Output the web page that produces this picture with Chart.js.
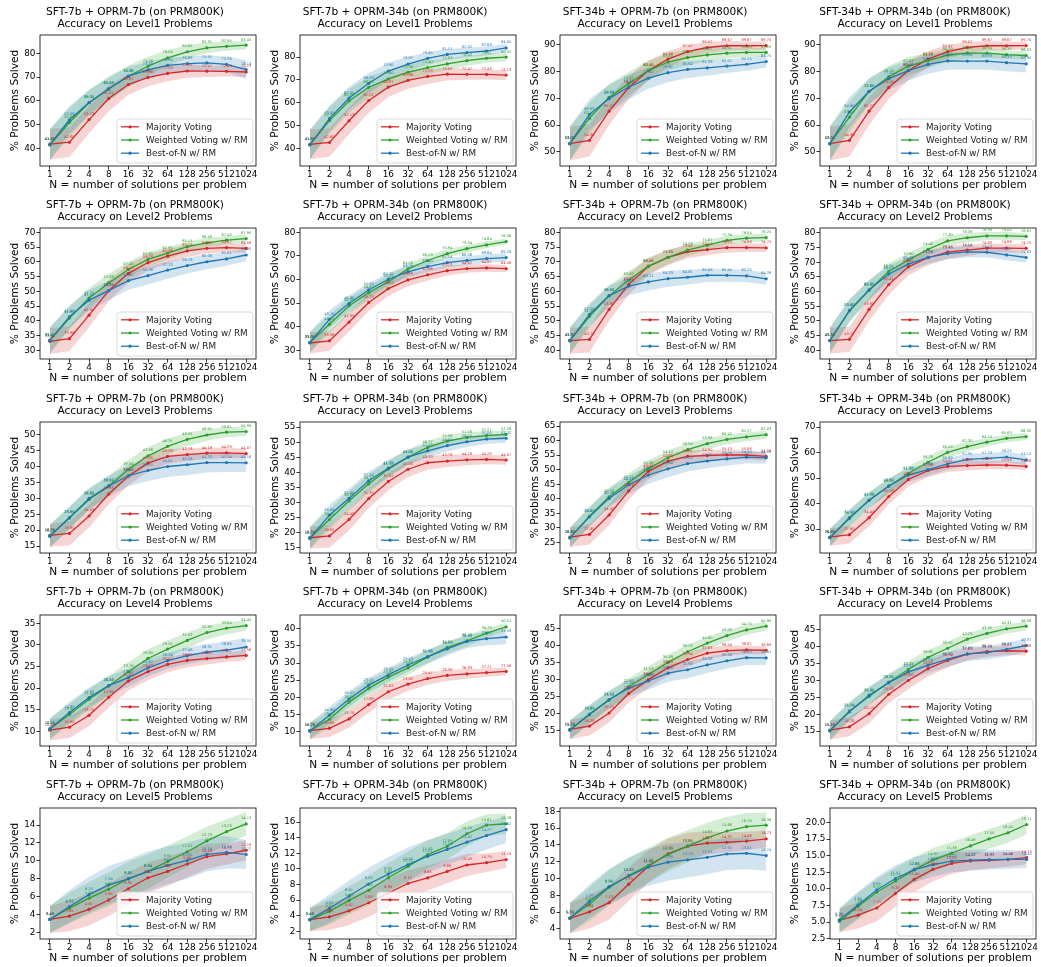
<!DOCTYPE html>
<html>
<head>
<meta charset="utf-8">
<script src="https://cdn.jsdelivr.net/npm/chart.js@4.4.0/dist/chart.umd.min.js"></script>
<style>
  body { margin: 0; background: #fff; }
  #grid { position: relative; width: 1041px; height: 967px; }
  #grid canvas { position: absolute; }
</style>
</head>
<body>
<div id="grid"></div>
<script>
const N_LABELS = ['1', '2', '4', '8', '16', '32', '64', '128', '256', '512', '1024'];
const SERIES_NAMES = ['Majority Voting', 'Weighted Voting w/ RM', 'Best-of-N w/ RM'];
const COLORS = ['#d62728', '#2ca02c', '#1f77b4'];
const BANDS = ['rgba(214,39,40,0.2)', 'rgba(44,160,44,0.2)', 'rgba(31,119,180,0.2)'];

// majority voting only depends on the generator (SFT model)
const mv7_L1 = [41.80, 42.60, 52.13, 61.01, 66.87, 69.86, 71.53, 72.55, 72.47, 72.43, 72.13];
const mv34_L1 = [53.05, 54.30, 65.22, 74.05, 80.40, 84.68, 87.47, 89.02, 89.67, 89.67, 89.75];
const mv7_L2 = [33.08, 33.98, 41.95, 50.25, 56.12, 59.79, 61.96, 63.73, 64.62, 64.87, 64.58];
const mv34_L2 = [43.30, 43.72, 53.95, 62.41, 68.45, 71.55, 73.45, 74.15, 74.83, 74.86, 74.75];
const mv7_L3 = [18.35, 18.95, 24.43, 31.35, 37.02, 41.05, 43.20, 43.76, 44.18, 44.29, 44.07];
const mv34_L3 = [26.85, 27.80, 34.45, 42.76, 49.45, 52.95, 54.61, 54.90, 55.13, 55.06, 54.58];
const mv7_L4 = [10.26, 10.95, 13.70, 17.89, 21.62, 23.82, 25.47, 26.39, 26.83, 27.21, 27.56];
const mv34_L4 = [15.30, 16.28, 20.15, 25.93, 30.00, 33.50, 35.94, 37.83, 38.54, 38.81, 38.69];
const mv7_L5 = [3.48, 3.85, 4.61, 5.65, 6.90, 8.12, 8.83, 9.66, 10.49, 10.79, 11.19];
const mv34_L5 = [5.25, 6.04, 7.13, 9.33, 11.45, 12.95, 13.85, 14.22, 14.32, 14.46, 14.73];

// weighted voting / best-of-N, named wv<sft>_<orm>_L<level>
const wv7_7_L1 = [41.45, 50.90, 59.20, 65.00, 70.30, 74.56, 78.04, 80.65, 82.31, 82.95, 83.45];
const bn7_7_L1 = [41.55, 52.06, 59.31, 65.08, 70.38, 73.00, 74.90, 75.69, 75.97, 75.38, 73.13];
const wv7_34_L1 = [41.60, 52.20, 60.80, 66.80, 70.40, 73.38, 75.40, 77.03, 78.43, 79.51, 80.02];
const bn7_34_L1 = [41.60, 53.05, 62.05, 68.53, 73.90, 76.97, 79.45, 81.17, 82.02, 82.68, 84.05];
const wv34_7_L1 = [53.05, 62.50, 70.40, 75.50, 80.40, 83.60, 85.20, 86.25, 86.91, 87.20, 87.20];
const bn34_7_L1 = [53.05, 63.95, 69.93, 74.25, 77.60, 79.61, 80.84, 81.38, 82.07, 82.75, 83.75];
const wv34_34_L1 = [53.05, 63.00, 72.60, 78.10, 82.03, 84.10, 86.20, 86.90, 86.94, 86.35, 86.03];
const bn34_34_L1 = [53.05, 64.90, 72.62, 77.40, 80.40, 82.70, 84.00, 83.96, 83.93, 83.33, 82.90];

const wv7_7_L2 = [33.40, 41.00, 47.75, 52.88, 57.45, 60.85, 62.95, 65.15, 66.49, 67.40, 67.90];
const bn7_7_L2 = [33.40, 41.40, 47.05, 50.30, 53.65, 55.38, 57.23, 58.78, 60.06, 61.01, 62.35];
const wv7_34_L2 = [33.30, 41.05, 48.90, 54.40, 59.05, 64.50, 68.03, 70.94, 73.04, 74.64, 76.06];
const bn7_34_L2 = [33.30, 43.10, 49.90, 55.55, 60.10, 63.20, 65.40, 67.14, 68.06, 68.84, 69.28];
const wv34_7_L2 = [43.30, 51.50, 58.50, 63.87, 68.58, 71.55, 74.03, 75.67, 77.34, 78.04, 78.25];
const bn34_7_L2 = [43.30, 52.20, 58.59, 61.80, 63.21, 64.33, 64.81, 65.48, 65.45, 65.25, 64.28];
const wv34_34_L2 = [43.30, 53.40, 60.40, 66.91, 70.80, 74.40, 77.30, 78.38, 78.99, 79.00, 78.81];
const bn34_34_L2 = [43.30, 53.60, 60.62, 66.00, 69.40, 71.70, 72.93, 73.58, 73.43, 72.51, 71.63];

const wv7_7_L3 = [18.20, 23.80, 29.60, 33.81, 39.06, 43.36, 46.35, 48.55, 49.91, 50.81, 50.99];
const bn7_7_L3 = [18.00, 23.95, 29.95, 33.90, 37.10, 38.75, 40.01, 40.56, 41.23, 41.24, 41.16];
const wv7_34_L3 = [18.20, 24.40, 30.60, 36.20, 41.10, 45.05, 48.27, 50.38, 51.58, 52.21, 52.58];
const bn7_34_L3 = [18.20, 25.84, 31.40, 37.24, 41.39, 45.05, 47.15, 48.85, 50.15, 51.05, 51.32];
const wv34_7_L3 = [26.60, 34.00, 40.70, 45.71, 50.38, 54.12, 56.90, 58.96, 60.42, 61.27, 62.03];
const bn34_7_L3 = [26.60, 33.81, 40.16, 44.85, 48.20, 50.30, 52.10, 53.00, 53.70, 54.30, 54.10];
const wv34_34_L3 = [26.60, 34.10, 41.40, 46.80, 51.90, 56.20, 60.05, 62.30, 64.10, 65.60, 66.30];
const bn34_34_L3 = [26.60, 34.50, 41.20, 46.90, 51.20, 53.30, 55.60, 57.35, 57.73, 58.25, 57.12];

const wv7_7_L4 = [10.55, 13.90, 17.40, 20.50, 23.79, 26.85, 29.01, 31.03, 32.85, 33.84, 34.45];
const bn7_7_L4 = [10.55, 14.35, 17.82, 20.58, 22.40, 24.67, 26.34, 27.48, 28.31, 28.80, 29.50];
const wv7_34_L4 = [10.20, 13.60, 18.60, 22.60, 25.90, 28.60, 31.70, 34.60, 36.43, 38.70, 40.51];
const bn7_34_L4 = [10.20, 14.80, 19.51, 23.55, 26.55, 29.43, 31.86, 34.10, 36.30, 37.10, 37.59];
const wv34_7_L4 = [15.10, 19.60, 23.90, 27.90, 31.53, 35.09, 38.25, 40.80, 43.00, 44.70, 45.80];
const bn34_7_L4 = [15.10, 19.85, 24.13, 27.50, 29.60, 31.90, 32.93, 34.38, 35.58, 36.50, 36.41];
const wv34_34_L4 = [15.10, 21.00, 25.30, 29.50, 33.28, 36.85, 39.55, 42.25, 43.95, 45.31, 46.08];
const bn34_34_L4 = [15.10, 20.73, 25.65, 29.31, 32.55, 34.50, 36.30, 37.89, 38.25, 39.20, 40.37];

const wv7_7_L5 = [3.48, 4.75, 5.85, 6.85, 8.02, 8.84, 9.95, 11.02, 12.23, 13.26, 14.13];
const bn7_7_L5 = [3.48, 4.92, 6.25, 7.34, 8.00, 8.84, 9.51, 10.05, 10.74, 10.96, 10.72];
const wv7_34_L5 = [3.48, 4.55, 5.95, 7.25, 8.85, 10.32, 11.83, 12.89, 14.50, 15.61, 15.78];
const bn7_34_L5 = [3.48, 4.92, 6.51, 8.05, 9.32, 10.55, 11.61, 12.50, 13.42, 14.27, 15.02];
const wv34_7_L5 = [5.30, 6.95, 8.95, 10.35, 11.56, 12.85, 13.85, 14.85, 15.66, 16.19, 16.36];
const bn34_7_L5 = [5.30, 7.29, 9.05, 10.30, 11.35, 11.95, 12.23, 12.53, 12.92, 13.01, 12.74];
const wv34_34_L5 = [5.10, 7.40, 9.50, 11.20, 12.88, 14.37, 15.38, 16.48, 17.55, 18.45, 19.71];
const bn34_34_L5 = [5.35, 7.60, 9.85, 11.57, 12.90, 13.65, 14.20, 14.33, 14.41, 14.45, 14.45];

// half widths of the shaded bands
const sdMv7_L1 = [6.5, 6.2, 5.8, 5.4, 4.3, 3.7, 3.3, 2.8, 2.4, 2.2, 2.1];
const sdMv34_L1 = [6.3, 6.0, 5.2, 4.3, 3.6, 3.0, 2.5, 2.1, 1.8, 1.6, 1.5];
const sdWv7_7_L1 = [6.5, 6.0, 5.6, 5.2, 4.6, 4.0, 3.4, 2.8, 2.2, 1.9, 1.7];
const sdBn7_7_L1 = [6.5, 5.8, 5.2, 4.6, 4.0, 3.5, 3.2, 3.0, 3.1, 3.4, 3.9];
const sdWv7_34_L1 = [6.5, 5.8, 5.2, 4.6, 4.0, 3.5, 3.0, 2.6, 2.2, 2.0, 1.8];
const sdBn7_34_L1 = [6.5, 5.6, 5.0, 4.4, 3.8, 3.2, 2.8, 2.4, 2.1, 2.0, 1.8];
const sdWv34_7_L1 = [6.3, 5.8, 5.0, 4.4, 3.8, 3.2, 2.8, 2.4, 2.0, 1.8, 1.6];
const sdBn34_7_L1 = [6.3, 5.8, 5.2, 4.6, 4.0, 3.6, 3.2, 2.9, 2.6, 2.4, 2.2];
const sdWv34_34_L1 = [6.3, 5.6, 4.8, 4.0, 3.4, 2.8, 2.4, 2.0, 1.8, 1.6, 1.5];
const sdBn34_34_L1 = [6.3, 5.6, 4.8, 4.2, 3.8, 3.5, 3.3, 3.2, 3.2, 3.2, 3.2];

const sdMv7_L2 = [4.4, 4.2, 4.0, 3.6, 3.1, 2.7, 2.4, 2.1, 1.8, 1.6, 1.5];
const sdMv34_L2 = [4.4, 4.3, 4.0, 3.5, 3.0, 2.6, 2.2, 1.9, 1.6, 1.5, 1.4];
const sdWv7_7_L2 = [4.4, 3.8, 3.4, 3.0, 2.7, 2.4, 2.1, 1.8, 1.6, 1.4, 1.3];
const sdBn7_7_L2 = [4.4, 3.8, 3.4, 3.2, 3.1, 3.0, 2.9, 2.7, 2.5, 2.3, 2.1];
const sdWv7_34_L2 = [4.4, 3.8, 3.4, 3.0, 2.7, 2.4, 2.1, 1.8, 1.6, 1.4, 1.3];
const sdBn7_34_L2 = [4.4, 3.8, 3.4, 3.0, 2.7, 2.4, 2.2, 2.0, 1.9, 1.8, 1.8];
const sdWv34_7_L2 = [4.4, 3.8, 3.4, 3.0, 2.7, 2.4, 2.1, 1.8, 1.5, 1.4, 1.3];
const sdBn34_7_L2 = [4.4, 3.8, 3.4, 3.1, 2.9, 2.7, 2.5, 2.3, 2.2, 2.1, 2.0];
const sdWv34_34_L2 = [4.4, 3.8, 3.3, 2.8, 2.4, 2.1, 1.8, 1.6, 1.4, 1.3, 1.2];
const sdBn34_34_L2 = [4.4, 3.8, 3.3, 2.8, 2.5, 2.2, 2.0, 1.9, 1.8, 1.8, 1.8];

const sdMv7_L3 = [3.6, 3.8, 3.6, 3.2, 2.9, 2.6, 2.3, 2.0, 1.8, 1.6, 1.5];
const sdMv34_L3 = [3.4, 3.5, 3.4, 3.1, 2.8, 2.5, 2.2, 1.9, 1.7, 1.5, 1.4];
const sdWv7_7_L3 = [3.6, 3.5, 3.3, 3.1, 3.0, 2.8, 2.5, 2.1, 1.8, 1.6, 1.4];
const sdBn7_7_L3 = [3.6, 3.5, 3.4, 3.3, 3.3, 3.3, 3.3, 3.2, 3.1, 3.0, 2.9];
const sdWv7_34_L3 = [3.6, 3.4, 3.2, 3.0, 2.8, 2.5, 2.2, 1.9, 1.7, 1.5, 1.4];
const sdBn7_34_L3 = [3.6, 3.4, 3.2, 3.0, 2.8, 2.5, 2.2, 1.9, 1.7, 1.6, 1.5];
const sdWv34_7_L3 = [3.4, 3.3, 3.2, 3.0, 2.8, 2.5, 2.2, 1.9, 1.7, 1.5, 1.4];
const sdBn34_7_L3 = [3.4, 3.3, 3.2, 3.1, 3.0, 2.9, 2.7, 2.5, 2.3, 2.1, 2.0];
const sdWv34_34_L3 = [3.4, 3.3, 3.1, 2.9, 2.7, 2.4, 2.2, 1.9, 1.7, 1.5, 1.4];
const sdBn34_34_L3 = [3.4, 3.3, 3.1, 2.9, 2.7, 2.5, 2.3, 2.2, 2.1, 2.1, 2.1];

const sdMv7_L4 = [2.4, 2.5, 2.5, 2.4, 2.2, 2.0, 1.8, 1.6, 1.4, 1.2, 1.1];
const sdMv34_L4 = [2.8, 2.8, 2.8, 2.7, 2.5, 2.3, 2.1, 1.8, 1.5, 1.3, 1.2];
const sdWv7_7_L4 = [2.4, 2.4, 2.4, 2.3, 2.2, 2.1, 2.0, 1.8, 1.6, 1.4, 1.2];
const sdBn7_7_L4 = [2.4, 2.4, 2.3, 2.2, 2.1, 2.0, 1.9, 1.9, 1.9, 2.0, 2.1];
const sdWv7_34_L4 = [2.4, 2.4, 2.4, 2.3, 2.2, 2.1, 2.0, 1.8, 1.6, 1.4, 1.2];
const sdBn7_34_L4 = [2.4, 2.4, 2.3, 2.2, 2.1, 2.0, 1.9, 1.9, 1.9, 2.0, 2.1];
const sdWv34_7_L4 = [2.8, 2.7, 2.6, 2.5, 2.4, 2.3, 2.1, 1.9, 1.7, 1.5, 1.3];
const sdBn34_7_L4 = [2.8, 2.7, 2.6, 2.5, 2.5, 2.5, 2.5, 2.4, 2.3, 2.2, 2.1];
const sdWv34_34_L4 = [2.8, 2.7, 2.6, 2.5, 2.4, 2.2, 2.0, 1.8, 1.6, 1.4, 1.3];
const sdBn34_34_L4 = [2.8, 2.7, 2.6, 2.5, 2.4, 2.3, 2.2, 2.1, 2.0, 2.0, 2.0];

const sdMv7_L5 = [1.5, 1.7, 1.8, 1.8, 1.8, 1.7, 1.6, 1.5, 1.4, 1.2, 1.1];
const sdMv34_L5 = [1.8, 2.0, 2.0, 2.0, 1.9, 1.8, 1.6, 1.4, 1.2, 1.1, 1.0];
const sdWv7_7_L5 = [1.5, 1.7, 1.8, 1.9, 1.9, 1.9, 1.8, 1.7, 1.6, 1.4, 1.3];
const sdBn7_7_L5 = [1.5, 1.8, 2.0, 2.1, 2.2, 2.2, 2.1, 2.0, 1.9, 1.8, 1.6];
const sdWv7_34_L5 = [1.5, 1.7, 1.8, 1.9, 1.9, 1.9, 1.8, 1.7, 1.6, 1.4, 1.3];
const sdBn7_34_L5 = [1.5, 1.8, 2.0, 2.1, 2.2, 2.2, 2.1, 2.0, 1.9, 1.8, 1.7];
const sdWv34_7_L5 = [1.8, 2.0, 2.1, 2.1, 2.1, 2.0, 1.9, 1.8, 1.7, 1.6, 1.5];
const sdBn34_7_L5 = [1.8, 2.0, 2.1, 2.2, 2.2, 2.2, 2.1, 2.0, 1.9, 1.9, 1.8];
const sdWv34_34_L5 = [1.8, 2.0, 2.0, 2.0, 1.9, 1.8, 1.7, 1.6, 1.5, 1.5, 1.5];
const sdBn34_34_L5 = [1.8, 2.0, 2.0, 2.0, 1.9, 1.8, 1.7, 1.6, 1.5, 1.4, 1.3];

// [sft, orm, level, mv, sdMv, wv, sdWv, bn, sdBn]
const panels = [
  ['7b', '7b', 1, mv7_L1, sdMv7_L1, wv7_7_L1, sdWv7_7_L1, bn7_7_L1, sdBn7_7_L1],
  ['7b', '34b', 1, mv7_L1, sdMv7_L1, wv7_34_L1, sdWv7_34_L1, bn7_34_L1, sdBn7_34_L1],
  ['34b', '7b', 1, mv34_L1, sdMv34_L1, wv34_7_L1, sdWv34_7_L1, bn34_7_L1, sdBn34_7_L1],
  ['34b', '34b', 1, mv34_L1, sdMv34_L1, wv34_34_L1, sdWv34_34_L1, bn34_34_L1, sdBn34_34_L1],
  ['7b', '7b', 2, mv7_L2, sdMv7_L2, wv7_7_L2, sdWv7_7_L2, bn7_7_L2, sdBn7_7_L2],
  ['7b', '34b', 2, mv7_L2, sdMv7_L2, wv7_34_L2, sdWv7_34_L2, bn7_34_L2, sdBn7_34_L2],
  ['34b', '7b', 2, mv34_L2, sdMv34_L2, wv34_7_L2, sdWv34_7_L2, bn34_7_L2, sdBn34_7_L2],
  ['34b', '34b', 2, mv34_L2, sdMv34_L2, wv34_34_L2, sdWv34_34_L2, bn34_34_L2, sdBn34_34_L2],
  ['7b', '7b', 3, mv7_L3, sdMv7_L3, wv7_7_L3, sdWv7_7_L3, bn7_7_L3, sdBn7_7_L3],
  ['7b', '34b', 3, mv7_L3, sdMv7_L3, wv7_34_L3, sdWv7_34_L3, bn7_34_L3, sdBn7_34_L3],
  ['34b', '7b', 3, mv34_L3, sdMv34_L3, wv34_7_L3, sdWv34_7_L3, bn34_7_L3, sdBn34_7_L3],
  ['34b', '34b', 3, mv34_L3, sdMv34_L3, wv34_34_L3, sdWv34_34_L3, bn34_34_L3, sdBn34_34_L3],
  ['7b', '7b', 4, mv7_L4, sdMv7_L4, wv7_7_L4, sdWv7_7_L4, bn7_7_L4, sdBn7_7_L4],
  ['7b', '34b', 4, mv7_L4, sdMv7_L4, wv7_34_L4, sdWv7_34_L4, bn7_34_L4, sdBn7_34_L4],
  ['34b', '7b', 4, mv34_L4, sdMv34_L4, wv34_7_L4, sdWv34_7_L4, bn34_7_L4, sdBn34_7_L4],
  ['34b', '34b', 4, mv34_L4, sdMv34_L4, wv34_34_L4, sdWv34_34_L4, bn34_34_L4, sdBn34_34_L4],
  ['7b', '7b', 5, mv7_L5, sdMv7_L5, wv7_7_L5, sdWv7_7_L5, bn7_7_L5, sdBn7_7_L5],
  ['7b', '34b', 5, mv7_L5, sdMv7_L5, wv7_34_L5, sdWv7_34_L5, bn7_34_L5, sdBn7_34_L5],
  ['34b', '7b', 5, mv34_L5, sdMv34_L5, wv34_7_L5, sdWv34_7_L5, bn34_7_L5, sdBn34_7_L5],
  ['34b', '34b', 5, mv34_L5, sdMv34_L5, wv34_34_L5, sdWv34_34_L5, bn34_34_L5, sdBn34_34_L5],
];

// y axis [min, max, step] per panel
const yAxes = [
  [32.6, 87.7, 10], [32.3, 89.7, 10], [44.7, 93.7, 10], [44.7, 93.7, 10],
  [27.1, 71.5, 5], [26.3, 81.8, 10], [37.1, 81.5, 5], [37.0, 81.7, 5],
  [12.8, 54.0, 5], [13.3, 56.7, 5], [21.4, 66.4, 5], [20.6, 72.0, 10],
  [6.6, 36.9, 5], [5.8, 44.0, 5], [10.4, 49.1, 5], [10.6, 49.4, 5],
  [1.3, 15.9, 2], [1.0, 17.8, 2], [2.8, 18.4, 2], [2.45, 22.2, 2.5],
];

Chart.defaults.font.family = '"DejaVu Sans", sans-serif';
Chart.defaults.color = '#000';

const PANEL_W = 260, PANEL_H = 193;
const AREA_TOP = 35, AREA_RIGHT = 4, X_AXIS_H = 27;

const titlePlugin = {
  id: 'twoLineTitle',
  afterDraw(chart, args, opts) {
    const ctx = chart.ctx;
    ctx.save();
    ctx.font = '10.6px "DejaVu Sans"';
    ctx.fillStyle = '#000';
    ctx.textAlign = 'center';
    ctx.textBaseline = 'middle';
    ctx.fillText(opts.lines[0], 135, 12.5);
    ctx.fillText(opts.lines[1], 135, 24.5);
    ctx.restore();
  }
};

const framePlugin = {
  id: 'frame',
  afterDatasetsDraw(chart) {
    const {ctx, chartArea: a} = chart;
    ctx.save();
    ctx.strokeStyle = '#000';
    ctx.lineWidth = 0.8;
    ctx.strokeRect(a.left, a.top, a.right - a.left, a.bottom - a.top);
    ctx.restore();
  }
};

const valueLabels = {
  id: 'valueLabels',
  afterDatasetsDraw(chart) {
    const ctx = chart.ctx;
    ctx.save();
    ctx.font = '3.6px "DejaVu Sans"';
    ctx.textAlign = 'center';
    ctx.textBaseline = 'middle';
    chart.data.datasets.forEach((ds, i) => {
      if (ds.seriesIndex === undefined) return;
      const meta = chart.getDatasetMeta(i);
      ctx.fillStyle = COLORS[ds.seriesIndex];
      meta.data.forEach((pt, j) => {
        ctx.fillText(ds.data[j].toFixed(2), pt.x, pt.y - 5.5);
      });
    });
    ctx.restore();
  }
};

const boxLegend = {
  id: 'boxLegend',
  afterDatasetsDraw(chart) {
    const {ctx, chartArea: a} = chart;
    const w = 136, h = 44;
    const x = a.right - 3 - w, y = a.bottom - 3 - h;
    ctx.save();
    ctx.beginPath();
    ctx.roundRect(x, y, w, h, 3);
    ctx.fillStyle = 'rgba(255,255,255,0.8)';
    ctx.fill();
    ctx.strokeStyle = '#d0d0d0';
    ctx.lineWidth = 0.8;
    ctx.stroke();
    ctx.font = '8.8px "DejaVu Sans"';
    ctx.textBaseline = 'middle';
    SERIES_NAMES.forEach((name, i) => {
      const cy = y + 7.8 + i * 13.2;
      ctx.strokeStyle = COLORS[i];
      ctx.lineWidth = 1.3;
      ctx.beginPath();
      ctx.moveTo(x + 4, cy);
      ctx.lineTo(x + 22, cy);
      ctx.stroke();
      ctx.fillStyle = COLORS[i];
      ctx.beginPath();
      ctx.arc(x + 13, cy, 1.6, 0, Math.PI * 2);
      ctx.fill();
      ctx.fillStyle = '#222';
      ctx.fillText(name, x + 29, cy + 0.5);
    });
    ctx.restore();
  }
};

const grid = document.getElementById('grid');

panels.forEach((p, k) => {
  const [sft, orm, level, mv, sdMv, wv, sdWv, bn, sdBn] = p;
  const [yMin, yMax, yStep] = yAxes[k];
  const decimals = yStep % 1 ? 1 : 0;
  const yAxisW = decimals ? 50 : 40;
  const row = Math.floor(k / 4), col = k % 4;

  const canvas = document.createElement('canvas');
  canvas.width = PANEL_W;
  canvas.height = PANEL_H;
  canvas.style.left = (col * PANEL_W) + 'px';
  canvas.style.top = Math.round(row * 193.25) + 'px';
  grid.appendChild(canvas);

  const series = [mv, wv, bn];
  const spreads = [sdMv, sdWv, sdBn];
  const datasets = [];
  // shaded bands first (upper fills down to lower)
  series.forEach((vals, s) => {
    const upper = vals.map((v, j) => v + spreads[s][j]);
    const lower = vals.map((v, j) => v - spreads[s][j]);
    const base = datasets.length;
    datasets.push({
      data: upper, borderWidth: 0, borderColor: 'transparent', pointRadius: 0,
      backgroundColor: BANDS[s], fill: base + 1, order: 20 - s
    });
    datasets.push({
      data: lower, borderWidth: 0, borderColor: 'transparent', pointRadius: 0,
      backgroundColor: BANDS[s], fill: false, order: 20 - s
    });
  });
  series.forEach((vals, s) => {
    datasets.push({
      label: SERIES_NAMES[s],
      seriesIndex: s,
      data: vals,
      borderColor: COLORS[s],
      backgroundColor: COLORS[s],
      borderWidth: 1.3,
      pointRadius: 1.6,
      pointBorderWidth: 0,
      fill: false,
      tension: 0,
      order: 3 - s
    });
  });

  new Chart(canvas.getContext('2d'), {
    type: 'line',
    data: { labels: N_LABELS, datasets },
    options: {
      responsive: false,
      animation: false,
      events: [],
      layout: { padding: { top: AREA_TOP, right: AREA_RIGHT, left: 0, bottom: 0 } },
      plugins: {
        legend: { display: false },
        tooltip: { enabled: false },
        filler: { drawTime: 'beforeDatasetsDraw' },
        twoLineTitle: {
          lines: [`SFT-${sft} + OPRM-${orm} (on PRM800K)`, `Accuracy on Level${level} Problems`]
        }
      },
      scales: {
        x: {
          type: 'category',
          offset: true,
          grid: { display: true, drawOnChartArea: false, drawTicks: true, tickLength: 3.5, color: '#000', lineWidth: 0.8 },
          border: { display: false },
          ticks: { autoSkip: false, maxRotation: 0, minRotation: 0, padding: 0.5, font: { size: 8.9, lineHeight: 1 }, color: '#000' },
          title: { display: true, text: 'N = number of solutions per problem', font: { size: 10.6 }, padding: { top: 0, bottom: 1 } },
          afterFit(scale) { scale.height = X_AXIS_H; }
        },
        y: {
          min: yMin,
          max: yMax,
          grid: { display: true, drawOnChartArea: false, drawTicks: true, tickLength: 3.5, color: '#000', lineWidth: 0.8 },
          border: { display: false },
          ticks: {
            padding: 1,
            font: { size: 8.9 },
            color: '#000',
            callback: (v) => v.toFixed(decimals)
          },
          afterBuildTicks(scale) {
            const ticks = [];
            for (let v = Math.ceil(yMin / yStep) * yStep; v <= yMax + 1e-9; v += yStep) {
              ticks.push({ value: +v.toFixed(2) });
            }
            scale.ticks = ticks;
          },
          title: { display: true, text: '% Problems Solved', font: { size: 10.6 }, padding: { top: 9, bottom: 0 } },
          afterFit(scale) { scale.width = yAxisW; }
        }
      }
    },
    plugins: [titlePlugin, framePlugin, valueLabels, boxLegend]
  });
});
</script>
</body>
</html>
